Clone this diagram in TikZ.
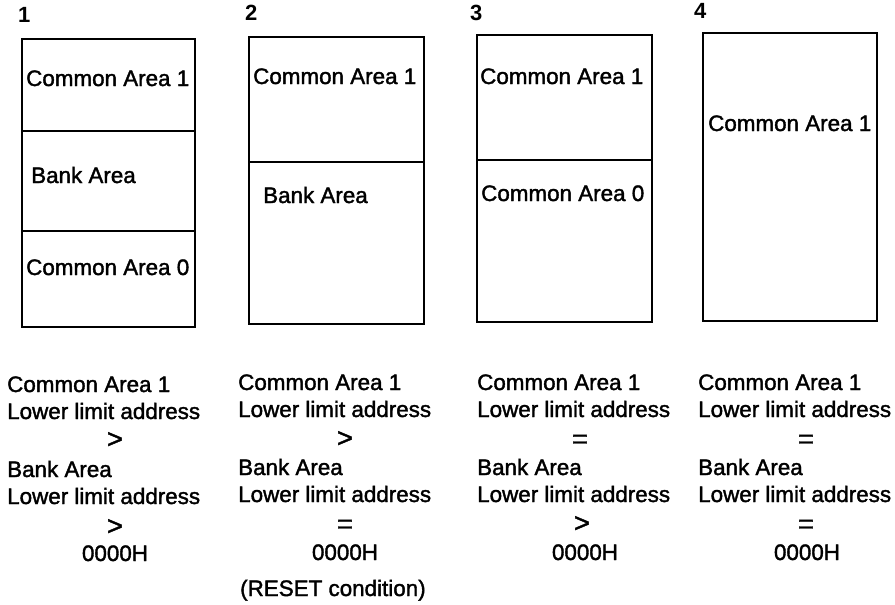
\documentclass[tikz,border=0pt]{standalone}
\usepackage{fontspec}
\setmainfont{Liberation Sans}
\newfontfamily\medfont{Liberation Sans}[FakeBold=1.6]
\usetikzlibrary{positioning}

\begin{document}
\begin{tikzpicture}[x=1pt,y=-1pt,
  mapbox/.style={draw,line width=1.6pt},
  lbl/.style={anchor=base west,inner sep=0pt,font=\medfont\fontsize{22.4}{26}\selectfont},
  rel/.style={anchor=base,inner sep=0pt,font=\medfont\fontsize{22.4}{26}\selectfont},
  sym/.style={anchor=base,inner sep=0pt,font=\medfont\fontsize{27}{30}\selectfont},
  num/.style={anchor=base west,inner sep=0pt,font=\fontsize{22}{25}\selectfont\bfseries}]
\useasboundingbox (0,0) rectangle (895,605);
% memory maps
\draw[mapbox] (22,39) rectangle (195,327);
\draw[mapbox] (22,131) -- (195,131);
\draw[mapbox] (22,231) -- (195,231);
\draw[mapbox] (249,37) rectangle (424,324);
\draw[mapbox] (249,162) -- (424,162);
\draw[mapbox] (477,35) rectangle (652,322);
\draw[mapbox] (477,160) -- (652,160);
\draw[mapbox] (703,33) rectangle (877,321);
\node[num] (n1) at (18,23) {1};
\node[num] (n2) at (245,20) {2};
\node[num] (n3) at (470,20) {3};
\node[num] (n4) at (694,19) {4};
\node[lbl] (m1a) at (26,86) {Common Area 1};
\node[lbl] (m1b) at (31,183) {Bank Area};
\node[lbl] (m1c) at (26,275) {Common Area 0};
\node[lbl] (m2a) at (253,84) {Common Area 1};
\node[lbl] (m2b) at (263,203) {Bank Area};
\node[lbl] (m3a) at (480,84) {Common Area 1};
\node[lbl] (m3b) at (481,201) {Common Area 0};
\node[lbl] (m4a) at (708,131) {Common Area 1};
% conditions
\node[lbl] (c1a) at (7,392) {Common Area 1};
\node[lbl] (c1b) at (7,419) {Lower limit address};
\node[sym] (c1c) at (115,448) {>};
\node[lbl] (c1d) at (7,477) {Bank Area};
\node[lbl] (c1e) at (7,504) {Lower limit address};
\node[sym] (c1f) at (115,535) {>};
\node[rel] (c1g) at (115,561) {0000H};
\node[lbl] (c2a) at (238,390) {Common Area 1};
\node[lbl] (c2b) at (238,417) {Lower limit address};
\node[sym] (c2c) at (345,447) {>};
\node[lbl] (c2d) at (238,475) {Bank Area};
\node[lbl] (c2e) at (238,502) {Lower limit address};
\node[sym] (c2f) at (345,533) {=};
\node[rel] (c2g) at (345,560) {0000H};
\node[lbl] (c2h) at (240,596) {(RESET condition)};
\node[lbl] (c3a) at (477,390) {Common Area 1};
\node[lbl] (c3b) at (477,417) {Lower limit address};
\node[sym] (c3c) at (580,448) {=};
\node[lbl] (c3d) at (477,475) {Bank Area};
\node[lbl] (c3e) at (477,502) {Lower limit address};
\node[sym] (c3f) at (582,532) {>};
\node[rel] (c3g) at (585,560) {0000H};
\node[lbl] (c4a) at (698,390) {Common Area 1};
\node[lbl] (c4b) at (698,417) {Lower limit address};
\node[sym] (c4c) at (806,448) {=};
\node[lbl] (c4d) at (698,475) {Bank Area};
\node[lbl] (c4e) at (698,502) {Lower limit address};
\node[sym] (c4f) at (806,533) {=};
\node[rel] (c4g) at (807,560) {0000H};
\end{tikzpicture}
\end{document}
